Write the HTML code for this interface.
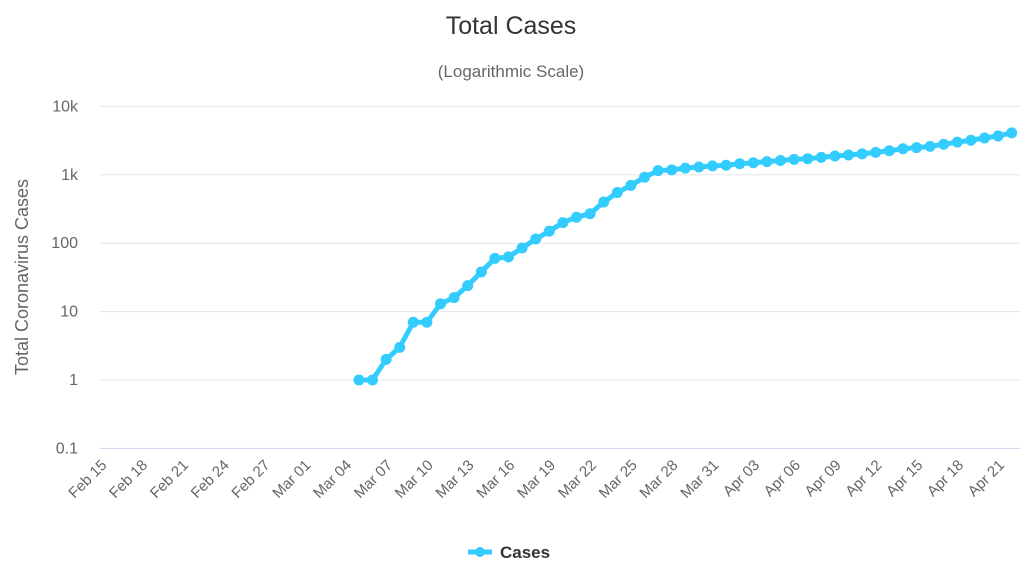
<!DOCTYPE html>
<html><head><meta charset="utf-8"><style>
html,body{margin:0;padding:0;background:#fff;}
svg{display:block;font-family:"Liberation Sans",sans-serif;}
</style></head><body>
<svg id="chart" width="1031" height="572" xmlns="http://www.w3.org/2000/svg">
<text x="511" y="34" text-anchor="middle" font-size="25" fill="#333">Total Cases</text>
<text x="511" y="77" text-anchor="middle" font-size="17" fill="#666">(Logarithmic Scale)</text>
<text transform="translate(28,277) rotate(-90)" text-anchor="middle" font-size="18" fill="#666">Total Coronavirus Cases</text>
<g id="grid"></g>
<g id="yticks"></g>
<g id="xticks"></g>
<g id="series"></g>
<g>
<line x1="468" y1="552" x2="492" y2="552" stroke="#33ccff" stroke-width="5"/>
<circle cx="480" cy="552" r="5" fill="#33ccff"/>
<text x="500" y="558" font-size="17" font-weight="bold" fill="#333">Cases</text>
</g>
</svg>
<script>
const yTicks=[0.1,1,10,100,1000,10000];
const yTickLabels=["0.1","1","10","100","1k","10k"];
const xLabels=["Feb 15","Feb 18","Feb 21","Feb 24","Feb 27","Mar 01","Mar 04","Mar 07","Mar 10","Mar 13","Mar 16","Mar 19","Mar 22","Mar 25","Mar 28","Mar 31","Apr 03","Apr 06","Apr 09","Apr 12","Apr 15","Apr 18","Apr 21"];
const startDay=19; // Mar 05 index from Feb 15
const cases=[1,1,2,3,7,7,13,16,24,38,60,63,85,115,150,200,240,270,400,550,700,920,1150,1180,1250,1300,1350,1380,1450,1500,1560,1620,1680,1720,1800,1880,1950,2020,2130,2250,2400,2500,2600,2800,3000,3200,3450,3700,4100];
const NS="http://www.w3.org/2000/svg";
const X0=100.5,STEP=13.6,PL=100,PR=1020;
const Y1=380,DEC=68.4;
function xs(i){return X0+i*STEP;}
function ys(v){return Y1-Math.log10(v)*DEC;}
function mk(t,a,p){const e=document.createElementNS(NS,t);for(const k in a)e.setAttribute(k,a[k]);p.appendChild(e);return e;}
const grid=document.getElementById('grid'),yt=document.getElementById('yticks'),xt=document.getElementById('xticks'),se=document.getElementById('series');
yTicks.forEach((v,i)=>{
  const l=mk('line',{x1:PL,x2:PR,y1:ys(v),y2:ys(v),stroke:i==0?'#ccd6eb':'#e6e6e6','stroke-width':1},grid);
  
  
  const t=mk('text',{x:78,y:ys(v)+5,'text-anchor':'end','font-size':16,fill:'#666'},yt);
  t.textContent=yTickLabels[i];
  
  
});
xLabels.forEach((s,i)=>{
  const x=xs(i*3)+7,y=466;
  const t=mk('text',{x:x,y:y,'text-anchor':'end','font-size':15,fill:'#666',transform:`rotate(-45 ${x} ${y})`},xt);
  t.textContent=s;
  
  
});
const pts=cases.map((v,i)=>[xs(startDay+i),ys(v)]);
const pl=mk('polyline',{points:pts.map(p=>p.join(',')).join(' '),fill:'none',stroke:'#33ccff','stroke-width':5,'stroke-linejoin':'round','stroke-linecap':'round'},se);


pts.forEach(p=>{
  const c=mk('circle',{cx:p[0],cy:p[1],r:5.5,fill:'#33ccff'},se);
  
  
});
</script>
</body></html>
